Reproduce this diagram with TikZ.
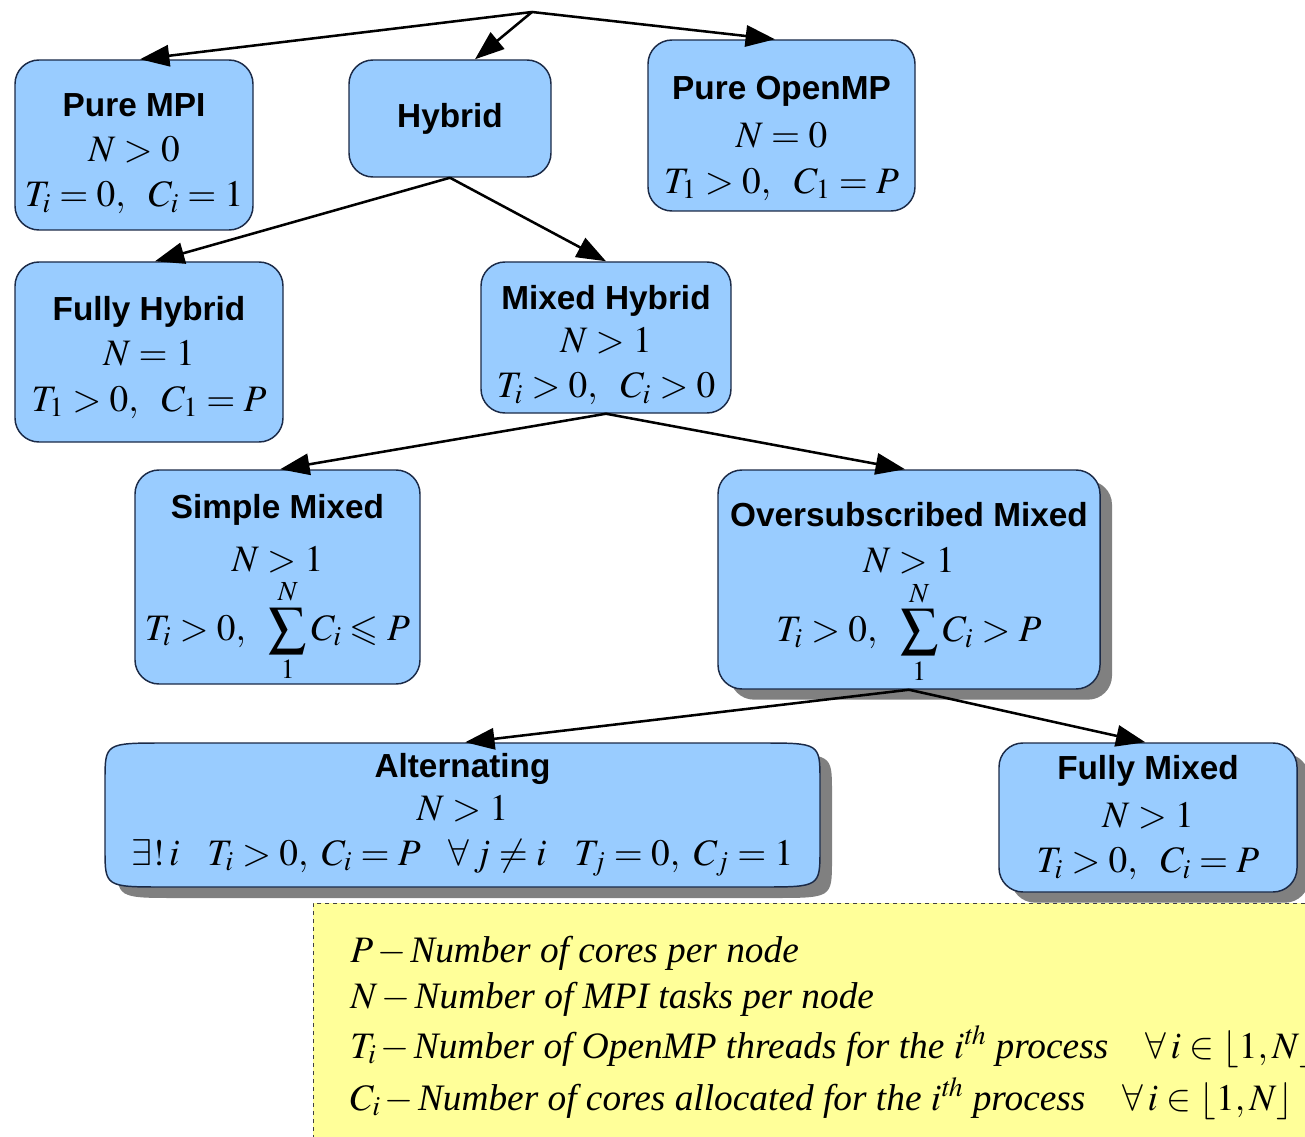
\documentclass[tikz,border=0pt]{standalone}
\usepackage{amssymb}
\usepackage{mathptmx}
\usepackage{fontspec}
\setmainfont{Liberation Serif}
\setsansfont{Liberation Sans}
\usetikzlibrary{arrows.meta,shadows}
\definecolor{boxfill}{HTML}{99CCFF}
\definecolor{boxline}{HTML}{1B2A47}
\definecolor{legfill}{HTML}{FFFF99}
\definecolor{shadowc}{HTML}{808080}
\newcommand\ttl[1]{{\sffamily\bfseries\fontsize{25}{28}\selectfont #1}}
\newcommand\up[1]{\rule{0pt}{#1}}
\tikzset{
  box/.style={draw=boxline, line width=1.1pt, fill=boxfill, rounded corners=18pt,
    align=center, inner sep=0pt, font=\fontsize{28}{34}\selectfont},
  shadowed/.style={drop shadow={shadow xshift=9pt, shadow yshift=-8pt, fill=shadowc, opacity=1}},
  arr/.style={-{Triangle[length=22pt,width=16pt]}, line width=1.9pt, black},
  legline/.style={anchor=base west, inner sep=0pt, font=\fontsize{28}{32}\selectfont}
}
\begin{document}
\begin{tikzpicture}[x=0.75pt,y=-0.75pt]
\useasboundingbox (0,0) rectangle (1305,1137);
\coordinate (root) at (532,12);

\node[box, minimum width=178.5pt, minimum height=127.5pt] (mpi) at (134,145)
  {\up{30pt}\ttl{Pure MPI}\\ $N>0$\\ $T_i=0,\ \ C_i=1$};
\node[box, minimum width=151.5pt, minimum height=87.75pt] (hyb) at (450,118.5)
  {\ttl{Hybrid}};
\node[box, minimum width=200.25pt, minimum height=128.25pt] (omp) at (781.5,125.5)
  {\up{37pt}\ttl{Pure OpenMP}\\[2pt] $N=0$\\ $T_1>0,\ \ C_1=P$};
\node[box, minimum width=201pt, minimum height=135pt] (fh) at (149,352)
  {\up{26pt}\ttl{Fully Hybrid}\\ $N=1$\\ $T_1>0,\ \ C_1=P$};
\node[box, minimum width=187.5pt, minimum height=113.25pt] (mh) at (606,337.5)
  {\up{30pt}\ttl{Mixed Hybrid}\\[-2pt] $N>1$\\ $T_i>0,\ \ C_i>0$};
\node[box, minimum width=213.75pt, minimum height=160.5pt] (sm) at (277.5,577)
  {\up{35pt}\ttl{Simple Mixed}\\[6pt] $N>1$\\[3pt] $T_i>0,\ \ \displaystyle\sum_1^N C_i\leqslant P$};
\node[box, shadowed, minimum width=286.5pt, minimum height=164.25pt] (om) at (909,579.5)
  {\up{39pt}\ttl{Oversubscribed Mixed}\\ $N>1$\\[4pt] $T_i>0,\ \ \displaystyle\sum_1^N C_i>P$};

% Alternating: box with wide elliptical corners
\fill[shadowc, shift={(12,11)}] (165,743) -- (760,743) .. controls (820,743) and (820,743) .. (820,781)
  -- (820,849) .. controls (820,887) and (820,887) .. (760,887) -- (165,887)
  .. controls (105,887) and (105,887) .. (105,849) -- (105,781)
  .. controls (105,743) and (105,743) .. (165,743) -- cycle;
\draw[draw=boxline, line width=1.1pt, fill=boxfill] (165,743) -- (760,743) .. controls (820,743) and (820,743) .. (820,781)
  -- (820,849) .. controls (820,887) and (820,887) .. (760,887) -- (165,887)
  .. controls (105,887) and (105,887) .. (105,849) -- (105,781)
  .. controls (105,743) and (105,743) .. (165,743) -- cycle;
\node[box, draw=none, fill=none, minimum width=536.25pt, minimum height=108pt] (alt) at (462.5,815)
  {\ttl{Alternating}\\[-2pt] $N>1$\\ $\exists!\,i\ \ \ T_i>0,\ C_i=P\ \ \ \forall\,j\neq i\ \ \ T_j=0,\ C_j=1$};

\node[box, shadowed, minimum width=223.5pt, minimum height=111.75pt] (fm) at (1148,817.5)
  {\ttl{Fully Mixed}\\[2pt] $N>1$\\ $T_i>0,\ \ C_i=P$};

% connectors
\draw[arr] (root) -- ([xshift=4.5pt]mpi.north);
\draw[arr] (root) -- ([xshift=18.75pt]hyb.north);
\draw[arr] (root) -- ([xshift=-4.9pt]omp.north);
\draw[arr] (hyb.south) -- ([xshift=4.5pt]fh.north);
\draw[arr] (hyb.south) -- (mh.north);
\draw[arr] (mh.south) -- ([xshift=2pt]sm.north);
\draw[arr] (mh.south) -- ([xshift=-3pt]om.north);
\draw[arr] (om.south) -- ([xshift=2pt]alt.north);
\draw[arr] (om.south) -- ([xshift=-2pt]fm.north);

% legend
\begin{scope}
\clip (0,0) rectangle (1305,1137);
\node[draw=black!75, dashed, line width=0.6pt, fill=legfill, anchor=north west,
  minimum width=760pt, minimum height=190pt, inner sep=0pt] (leg) at (313,903) {};
\node[legline] (l1) at (350,962) {$P\,{-}\,$\textit{Number of cores per node}};
\node[legline] (l2) at (350,1008) {$N\,{-}\,$\textit{Number of MPI tasks per node}};
\node[legline] (l3) at (350,1058) {$T_i\,{-}\,$\textit{Number of OpenMP threads for the} $i^{\mathit{th}}$ \textit{process}\quad $\forall\, i\in\lfloor 1,N\rfloor$};
\node[legline] (l4) at (350,1110) {$C_i\,{-}\,$\textit{Number of cores allocated for the} $i^{\mathit{th}}$ \textit{process}\quad $\forall\, i\in\lfloor 1,N\rfloor$};
\end{scope}
\end{tikzpicture}
\end{document}
